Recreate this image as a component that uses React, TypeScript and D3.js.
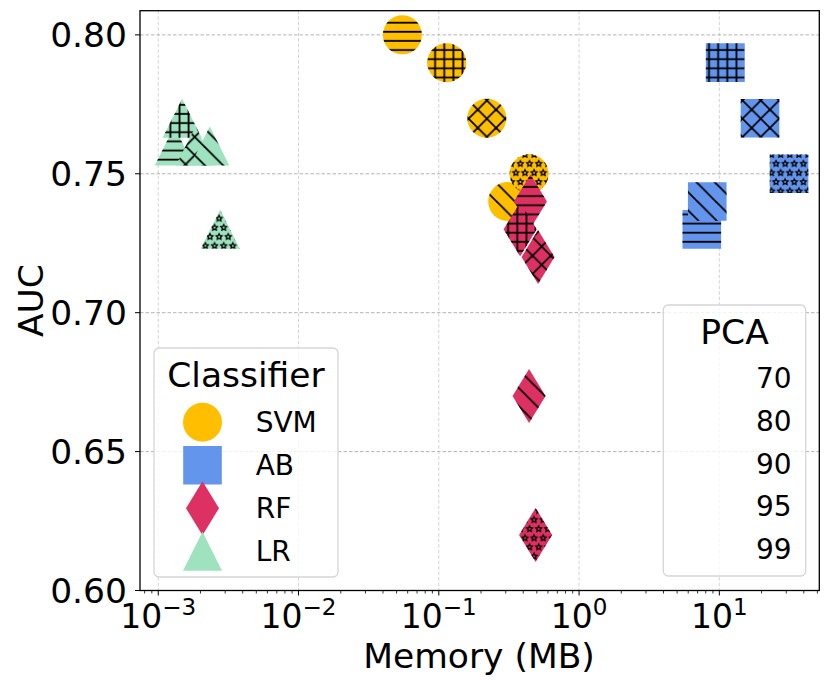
import * as d3 from 'd3';

const classifiers = ['SVM', 'AB', 'RF', 'LR'];
const classColors = ['#FFBF00', '#6495ED', '#DE3163', '#9FE2BF'];
const classShapes = ['circle', 'square', 'thin_diamond', 'triangle'];
const pcaLevels = ['70', '80', '90', '95', '99'];
const pcaHatches = ['-', '+', 'x', '\\', '*'];

// memory (MB) and AUC per PCA level, one pair of arrays per classifier
const svmMemory = [0.055, 0.114, 0.22, 0.31, 0.44];
const svmAuc = [0.80, 0.79, 0.77, 0.74, 0.75];
const abMemory = [7.5, 11.0, 19.5, 8.2, 31.4];
const abAuc = [0.73, 0.79, 0.77, 0.74, 0.75];
const rfMemory = [0.45, 0.38, 0.51, 0.44, 0.49];
const rfAuc = [0.74, 0.73, 0.72, 0.67, 0.62];
const lrMemory = [0.0013, 0.00148, 0.00184, 0.00233, 0.00276];
const lrAuc = [0.76, 0.77, 0.76, 0.76, 0.73];

const memorySeries = [svmMemory, abMemory, rfMemory, lrMemory];
const aucSeries = [svmAuc, abAuc, rfAuc, lrAuc];

const xTickExps = [-3, -2, -1, 0, 1];
const yTicks = [0.60, 0.65, 0.70, 0.75, 0.80];

const W = 831;
const H = 686;
const FONT = '"DejaVu Sans", sans-serif';
const T = 9.13; // hatch tile

// marker outline in absolute coords so the hatch stays anchored to the canvas
function markerPath(kind: string, cx: number, cy: number) {
  if (kind === 'circle') {
    const r = 19.5;
    return `M${cx - r},${cy}A${r},${r} 0 1,0 ${cx + r},${cy}A${r},${r} 0 1,0 ${cx - r},${cy}Z`;
  }
  if (kind === 'square') {
    const h = 19.3;
    return `M${cx - h},${cy - h}H${cx + h}V${cy + h}H${cx - h}Z`;
  }
  if (kind === 'thin_diamond') {
    return `M${cx},${cy - 27}L${cx + 16.5},${cy}L${cx},${cy + 27}L${cx - 16.5},${cy}Z`;
  }
  const s = 19.5;
  return `M${cx},${cy - s}L${cx + s},${cy + s}L${cx - s},${cy + s}Z`;
}

function starPath(cx: number, cy: number, r: number) {
  const pts: string[] = [];
  for (let i = 0; i < 10; i++) {
    const a = -Math.PI / 2 + (i * Math.PI) / 5;
    const rr = i % 2 === 0 ? r : r * 0.5;
    pts.push(`${cx + rr * Math.cos(a)},${cy + rr * Math.sin(a)}`);
  }
  return 'M' + pts.join('L') + 'Z';
}

function HatchPattern({ id, hatch }: { id: string; hatch: string }) {
  const sw = 1.8;
  const S = 2 * T;
  if (hatch === '-' || hatch === '+') {
    return (
      <pattern id={id} patternUnits="userSpaceOnUse" width={T} height={T} x={0} y={0}>
        <line x1={0} x2={T} y1={4.4} y2={4.4} stroke="#000" strokeWidth={sw} />
        {hatch === '+' && <line x1={6} x2={6} y1={0} y2={T} stroke="#000" strokeWidth={sw} />}
      </pattern>
    );
  }
  if (hatch === '\\' || hatch === 'x') {
    return (
      <pattern id={id} patternUnits="userSpaceOnUse" width={S} height={S} x={3} y={0}>
        <line x1={-1} y1={-1} x2={S + 1} y2={S + 1} stroke="#000" strokeWidth={sw} />
        <line x1={-S / 2} y1={S / 2} x2={S / 2} y2={1.5 * S} stroke="#000" strokeWidth={sw} />
        <line x1={S / 2} y1={-S / 2} x2={1.5 * S} y2={S / 2} stroke="#000" strokeWidth={sw} />
        {hatch === 'x' && (
          <>
            <line x1={-1} y1={S + 1} x2={S + 1} y2={-1} stroke="#000" strokeWidth={sw} />
            <line x1={-S / 2} y1={S / 2} x2={S / 2} y2={-S / 2} stroke="#000" strokeWidth={sw} />
            <line x1={S / 2} y1={1.5 * S} x2={1.5 * S} y2={S / 2} stroke="#000" strokeWidth={sw} />
          </>
        )}
      </pattern>
    );
  }
  const spots = [[0, 0], [T, 0], [0, S], [T, S], [T / 2, T]];
  return (
    <pattern id={id} patternUnits="userSpaceOnUse" width={T} height={S} x={0} y={-0.6}>
      {spots.map(([cx, cy], i) => (
        <path key={i} d={starPath(cx, cy, 3)} fill="none" stroke="#000" strokeWidth={1.3} />
      ))}
    </pattern>
  );
}

export default function App() {
  const x = d3.scaleLog().domain([7.41e-4, 51.6]).range([140, 819.3]);
  const y = d3.scaleLinear().domain([0.6, 0.8087]).range([590.5, 10.7]);
  const [x0, x1] = x.range();
  const [y0, y1] = y.range();

  const majorX = xTickExps.map(e => Math.pow(10, e));
  const minorX: number[] = [];
  for (let e = -4; e <= 1; e++) {
    for (let m = 2; m <= 9; m++) {
      const v = m * Math.pow(10, e);
      if (v > x.domain()[0] && v < x.domain()[1]) minorX.push(v);
    }
  }

  const points: { c: number; p: number }[] = [];
  classifiers.forEach((_, c) => pcaLevels.forEach((__, p) => points.push({ c, p })));

  return (
    <svg width={W} height={H} style={{ position: 'absolute', left: 0, top: 0, display: 'block' }} fontFamily={FONT}>
      <defs>
        {pcaHatches.map((h, i) => <HatchPattern key={i} id={`hatch-${i}`} hatch={h} />)}
      </defs>
      <rect x={0} y={0} width={W} height={H} fill="#fff" />

      {/* grid */}
      {majorX.map((v, i) => (
        <line key={'gx' + i} x1={x(v)} x2={x(v)} y1={y1} y2={y0} stroke="#d4d4d4" strokeWidth={1} strokeDasharray="3.5,2" />
      ))}
      {yTicks.map((v, i) => (
        <line key={'gy' + i} x1={x0} x2={x1} y1={y(v)} y2={y(v)} stroke="#b4b4b4" strokeWidth={1} strokeDasharray="3.5,2" />
      ))}

      {/* markers */}
      {points.map(({ c, p }, i) => {
        const d = markerPath(classShapes[c], x(memorySeries[c][p]), y(aucSeries[c][p]));
        return (
          <g key={'m' + i}>
            <path d={d} fill={classColors[c]} />
            <path d={d} fill={`url(#hatch-${p})`} />
          </g>
        );
      })}

      {/* spines */}
      <rect x={x0} y={y1} width={x1 - x0} height={y0 - y1} fill="none" stroke="#000" strokeWidth={1.3} />

      {/* x ticks */}
      {majorX.map((v, i) => (
        <g key={'tx' + i}>
          <line x1={x(v)} x2={x(v)} y1={y0} y2={y0 + 5} stroke="#000" strokeWidth={1} />
          <text x={x(v)} y={627.7} textAnchor="middle" fill="#000">
            <tspan fontSize={33}>10</tspan>
            <tspan fontSize={23} dy={-13}>{xTickExps[i] < 0 ? '\u2212' + Math.abs(xTickExps[i]) : String(xTickExps[i])}</tspan>
          </text>
        </g>
      ))}
      {minorX.map((v, i) => (
        <line key={'mx' + i} x1={x(v)} x2={x(v)} y1={y0} y2={y0 + 3} stroke="#000" strokeWidth={0.8} />
      ))}

      {/* y ticks */}
      {yTicks.map((v, i) => (
        <g key={'ty' + i}>
          <line x1={x0 - 5} x2={x0} y1={y(v)} y2={y(v)} stroke="#000" strokeWidth={1} />
          <text x={127} y={y(v)} dy="0.36em" textAnchor="end" fontSize={34.5} fill="#000">{d3.format('.2f')(v)}</text>
        </g>
      ))}

      <text x={479} y={668} textAnchor="middle" fontSize={34.5} fill="#000">Memory (MB)</text>
      <text transform={`translate(43,${(y0 + y1) / 2}) rotate(-90)`} textAnchor="middle" fontSize={34.5} fill="#000">AUC</text>

      {/* classifier legend */}
      <rect x={154} y={348} width={184} height={229} rx={5} fill="#fff" fillOpacity={0.8} stroke="#d6d6d6" strokeWidth={1.3} />
      <text x={246} y={386.7} textAnchor="middle" fontSize={34.5}>Classifier</text>
      {classifiers.map((name, c) => (
        <g key={'lc' + c}>
          <path d={markerPath(classShapes[c], 202.5, 422.3 + 43 * c)} fill={classColors[c]} />
          <text x={255.7} y={431.7 + 43 * c} fontSize={28}>{name}</text>
        </g>
      ))}

      {/* PCA legend */}
      <rect x={663.3} y={305} width={142.4} height={271} rx={5} fill="#fff" fillOpacity={0.8} stroke="#d6d6d6" strokeWidth={1.3} />
      <text x={734.5} y={344.3} textAnchor="middle" fontSize={34.5}>PCA</text>
      {pcaLevels.map((lvl, p) => (
        <text key={'lp' + p} x={791.7} y={388.3 + 42.7 * p} textAnchor="end" fontSize={28}>{lvl}</text>
      ))}
    </svg>
  );
}
